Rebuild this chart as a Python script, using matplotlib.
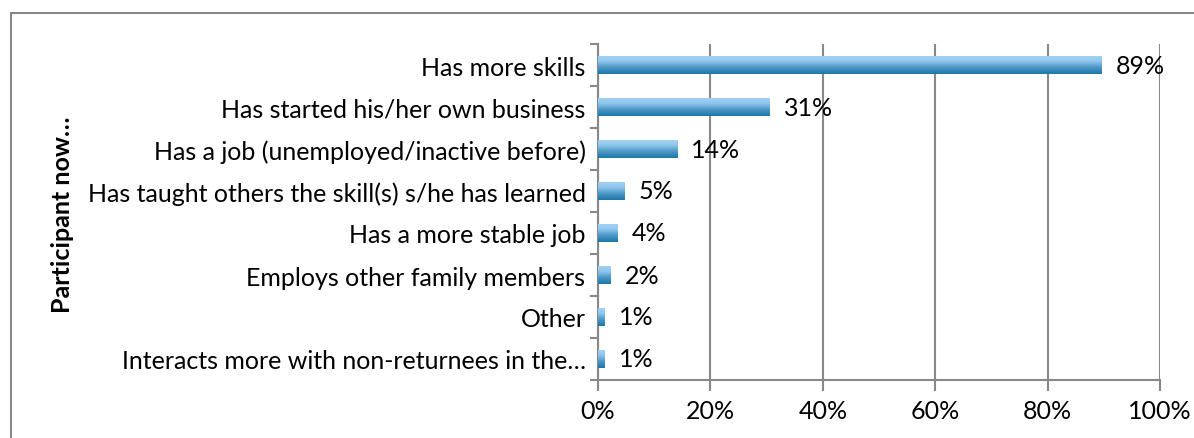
import matplotlib
matplotlib.use("Agg")
import matplotlib.pyplot as plt
import numpy as np
from matplotlib.colors import LinearSegmentedColormap
from matplotlib.patches import Rectangle

categories = [
    "Has more skills",
    "Has started his/her own business",
    "Has a job (unemployed/inactive before)",
    "Has taught others the skill(s) s/he has learned",
    "Has a more stable job",
    "Employs other family members",
    "Other",
    "Interacts more with non-returnees in the\u2026",
]
values = [89.6, 30.6, 14.1, 4.7, 3.5, 2.3, 1.2, 1.2]
labels = ["89%", "31%", "14%", "5%", "4%", "2%", "1%", "1%"]
xticks = [0, 20, 40, 60, 80, 100]
xticklabels = ["0%", "20%", "40%", "60%", "80%", "100%"]
ylabel = "Participant now\u2026"

plt.rcParams['font.family'] = ['Lato', 'DejaVu Sans']
FS = 18

W, H = 1194, 439
fig = plt.figure(figsize=(W/100, H/100), dpi=100)
fig.patch.set_facecolor('white')
ax = fig.add_axes([598/W, 1-381/H, (1160-598)/W, (381-45)/H])

# outer border
fig.add_artist(Rectangle((11/W, -0.1), 1.2, 1.1 - 14/H, transform=fig.transFigure,
                         fill=False, edgecolor='#888888', linewidth=1.5))

n = len(categories)
ypos = np.arange(n)
bar_h = 0.43
cmap = LinearSegmentedColormap.from_list('g', ['#A5D4F5', '#8EC5EC', '#4A96C6', '#1E77A8'])
grad = np.linspace(0, 1, 64).reshape(-1, 1)

bars = ax.barh(ypos, values, height=bar_h, color='none', edgecolor='none', zorder=3)
for b in bars:
    x0, y0 = b.get_x(), b.get_y()
    w, h = b.get_width(), b.get_height()
    im = ax.imshow(grad, cmap=cmap, aspect='auto', extent=[x0, x0 + w, y0 + h, y0],
                   origin='upper', zorder=3)
    im.set_clip_path(b)

ax.set_xlim(0, 100)
ax.set_ylim(n - 0.5, -0.5)

for y, v, lab in zip(ypos, values, labels):
    ax.annotate(lab, (v, y), xytext=(10, 0), textcoords='offset points',
                va='center', ha='left', fontsize=FS, color='black', zorder=5)

ax.set_xticks(xticks)
ax.set_xticklabels(xticklabels, fontsize=FS)
ax.set_yticks(ypos)
ax.set_yticklabels(categories, fontsize=FS)
ax.tick_params(axis='y', length=0, pad=9)
ax.set_yticks(np.arange(n + 1) - 0.5, minor=True)
ax.tick_params(axis='y', which='minor', length=6, width=1.5, color='#888888')
ax.tick_params(axis='x', length=8, width=1.5, color='#888888', pad=6)

ax.grid(axis='x', color='#888888', linewidth=1.5, zorder=1)
ax.set_axisbelow(True)
for s in ['top', 'right']:
    ax.spines[s].set_visible(False)
for s in ['left', 'bottom']:
    ax.spines[s].set_color('#888888')
    ax.spines[s].set_linewidth(1.5)

fig.text(62/W, 1-215/H, ylabel, rotation=90, ha='center', va='center',
         fontsize=FS, fontweight='bold')

fig.savefig('out.png', dpi=100, facecolor='white')
